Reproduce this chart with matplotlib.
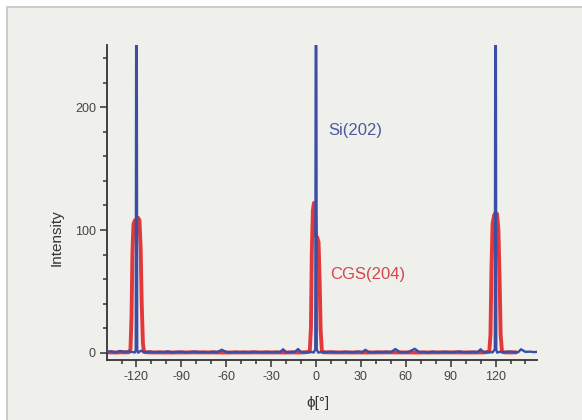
import matplotlib
matplotlib.use("Agg")
import matplotlib.pyplot as plt
from matplotlib.patches import Rectangle
from matplotlib.ticker import MultipleLocator

plt.rcParams['font.family'] = ['Liberation Sans', 'DejaVu Sans']
plt.rcParams['axes.unicode_minus'] = False

# Si(202) phi scan (blue), (phi, intensity) pairs
si_points = [(-140, 0.8), (-137, 1.4), (-134, 0.5), (-131, 1.6), (-128, 0.9), (-125, 1.3),
             (-122.5, 0.7), (-121, 0.4), (-120.5, 3.0), (-120.2, 262), (-119.8, 262),
             (-119.5, 3.0), (-119, 0.2), (-117, 1.8), (-114, 0.6), (-111, 1.2), (-108, 0.4),
             (-105, 1.0), (-102, 0.7), (-99, 1.3), (-96, 0.5), (-93, 0.9), (-90, 1.1),
             (-87, 0.4), (-84, 0.8), (-81, 1.2), (-78, 0.6), (-75, 0.9), (-72, 0.5),
             (-69, 1.1), (-66, 0.7), (-63, 2.6), (-60, 0.8), (-57, 0.5), (-54, 1.0),
             (-51, 0.6), (-48, 0.9), (-45, 0.4), (-42, 1.1), (-39, 0.7), (-36, 0.5),
             (-33, 1.0), (-30, 0.6), (-27, 0.9), (-24, 0.8), (-22, 3.0), (-20, 0.6),
             (-17, 0.9), (-14, 1.0), (-12, 3.2), (-10, 0.7), (-7, 0.5), (-4, 1.0),
             (-1.5, 0.4), (-0.5, 3.0), (-0.2, 262), (0.2, 262), (0.5, 3.0), (1.5, 0.3),
             (4, 0.9), (7, 0.6), (10, 1.1), (13, 0.7), (16, 0.5), (19, 1.0), (22, 0.8),
             (25, 0.6), (28, 1.2), (31, 0.7), (33, 2.6), (35, 0.9), (38, 0.5), (41, 1.0),
             (44, 0.7), (47, 1.1), (50, 0.6), (53, 3.2), (56, 0.8), (59, 0.5), (62, 1.0),
             (66, 3.4), (69, 0.7), (72, 0.9), (75, 0.5), (78, 1.1), (81, 0.6), (84, 0.8),
             (87, 1.0), (90, 0.5), (93, 0.9), (96, 1.2), (99, 0.6), (102, 0.8), (105, 1.0),
             (108, 0.7), (110, 3.0), (112, 0.6), (115, 0.9), (118, 0.5), (119.5, 3.0),
             (119.8, 262), (120.2, 262), (120.5, 3.0), (121, 0.3), (123, 1.0), (126, 0.6),
             (129, 1.2), (132, 0.8), (135, 0.5), (137, 3.0), (140, 0.9), (143, 1.1),
             (146, 0.7), (148, 1.0)]

# CGS(204) phi scan (red)
cgs_points = [(-138, 0.5), (-134, 0.4), (-130, 0.6), (-127, 0.5), (-125, 0.6), (-124, 3),
              (-123.3, 30), (-122.7, 82), (-122, 105), (-121, 108), (-120, 106), (-119, 110),
              (-118, 108), (-117.2, 85), (-116.5, 40), (-115.7, 8), (-115, 0.8), (-112, 0.5),
              (-100, 0.4), (-80, 0.5), (-60, 0.4), (-40, 0.5), (-20, 0.4), (-8, 0.5),
              (-4.2, 1), (-3.4, 20), (-2.8, 82), (-2.1, 116), (-1.4, 122), (-0.7, 112),
              (0, 95), (0.8, 94), (1.7, 90), (2.4, 60), (3.1, 18), (3.9, 2), (4.6, 0.6),
              (10, 0.5), (30, 0.4), (50, 0.5), (70, 0.4), (90, 0.5), (105, 0.4), (113, 0.5),
              (115.8, 1), (116.6, 15), (117.3, 70), (118, 105), (119, 112), (120, 114),
              (121, 113), (121.9, 100), (122.7, 60), (123.4, 15), (124.3, 1), (126, 0.5),
              (130, 0.4), (133, 0.5)]

si_phi = [p for p, v in si_points]
si_int = [v for p, v in si_points]
cgs_phi = [p for p, v in cgs_points]
cgs_int = [v for p, v in cgs_points]

fig = plt.figure(figsize=(5.82, 4.2), dpi=100, facecolor='white')
fig.patches.append(Rectangle((7 / 582, -0.5), 2.0, 1.5 - 7 / 420,
                             transform=fig.transFigure, facecolor='#efefeb',
                             edgecolor='#c4c4c4', linewidth=1.2, zorder=-10))

ax = fig.add_axes([107 / 582, 1 - 360 / 420, 430 / 582, 315 / 420])
ax.set_facecolor('none')

ax.plot(cgs_phi, cgs_int, color='#e2383a', linewidth=2.8, solid_joinstyle='round', zorder=2)
ax.plot(si_phi, si_int, color='#3a4ea3', linewidth=1.7, zorder=3)

ax.set_xlim(-139.7, 147.7)
ax.set_ylim(-5.7, 250.5)

ax.xaxis.set_major_locator(MultipleLocator(30))
ax.xaxis.set_minor_locator(MultipleLocator(10))
ax.yaxis.set_major_locator(MultipleLocator(100))
ax.yaxis.set_minor_locator(MultipleLocator(20))

for s in ['top', 'right']:
    ax.spines[s].set_visible(False)
for s in ['left', 'bottom']:
    ax.spines[s].set_linewidth(1.3)
    ax.spines[s].set_color('#333333')

ax.tick_params(which='major', direction='out', length=5, width=1.1, color='#333333',
               labelsize=9, labelcolor='#444444', pad=3)
ax.tick_params(which='minor', direction='out', length=3, width=1.1, color='#333333')

ax.set_ylabel('Intensity', fontsize=11, color='#333333')
ax.yaxis.set_label_coords(-0.102, 0.39)
ax.set_xlabel('ϕ[°]', fontsize=11, color='#333333')
ax.xaxis.set_label_coords(0.49, -0.114)

ax.text(8.5, 181, 'Si(202)', color='#4b5a9e', fontsize=12, ha='left', va='center')
ax.text(9.5, 64, 'CGS(204)', color='#d4464c', fontsize=12, ha='left', va='center')

fig.savefig('out.png', dpi=100, facecolor=fig.get_facecolor())
